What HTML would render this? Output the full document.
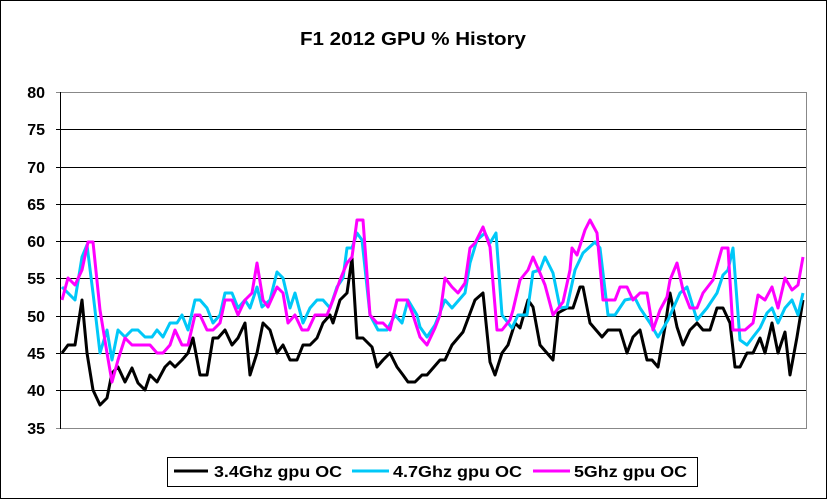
<!DOCTYPE html>
<html><head><meta charset="utf-8"><style>
html,body{margin:0;padding:0;background:#fff;}
svg{display:block;}
text{font-family:"Liberation Sans",Arial,sans-serif;font-weight:bold;fill:#000;}
</style></head><body>
<svg width="827" height="499" viewBox="0 0 827 499" xmlns="http://www.w3.org/2000/svg">
<rect x="0.5" y="0.5" width="826" height="498" fill="#fff" stroke="#000" stroke-width="1"/>
<text x="413" y="45" font-size="18" text-anchor="middle" textLength="226" lengthAdjust="spacingAndGlyphs">F1 2012 GPU % History</text>
<g stroke="#000" stroke-width="1">
<line x1="56" y1="92.5" x2="806" y2="92.5" stroke="#888"/>
<line x1="56" y1="129.5" x2="806" y2="129.5"/>
<line x1="56" y1="167.5" x2="806" y2="167.5"/>
<line x1="56" y1="204.5" x2="806" y2="204.5"/>
<line x1="56" y1="241.5" x2="806" y2="241.5"/>
<line x1="56" y1="278.5" x2="806" y2="278.5"/>
<line x1="56" y1="316.5" x2="806" y2="316.5"/>
<line x1="56" y1="353.5" x2="806" y2="353.5"/>
<line x1="56" y1="390.5" x2="806" y2="390.5"/>
<line x1="56" y1="428.5" x2="806" y2="428.5" stroke="#888"/>
<line x1="60.5" y1="92" x2="60.5" y2="429"/>
<line x1="806.5" y1="92" x2="806.5" y2="429" stroke="#888"/>
</g>
<g font-size="16" text-anchor="end">
<text x="45" y="98">80</text><text x="45" y="135">75</text><text x="45" y="173">70</text>
<text x="45" y="210">65</text><text x="45" y="247">60</text><text x="45" y="284">55</text>
<text x="45" y="322">50</text><text x="45" y="359">45</text><text x="45" y="396">40</text>
<text x="45" y="434">35</text>
</g>
<g fill="none" stroke-width="3" stroke-linejoin="round">
<polyline stroke="#000" points="62,353 68,345 75,345 82,300 87,353 93,390 100,405 107,398 112,373 118,367 125,382 132,368 138,383 145,390 150,375 157,382 165,367 170,362 175,367 182,360 188,353 193,338 200,375 207,375 213,338 218,338 225,330 232,345 238,338 245,323 250,375 257,353 263,323 270,330 277,353 283,345 290,360 297,360 303,345 310,345 317,338 323,323 330,315 333,323 340,300 347,293 352,258 357,338 363,338 372,347 377,367 383,360 390,353 397,367 403,375 408,382 415,382 422,375 427,375 440,360 445,360 452,345 463,332 475,300 483,293 490,362 495,375 502,353 508,345 515,323 520,328 528,300 533,307 540,345 553,360 558,313 567,308 573,308 580,287 583,287 590,323 602,337 608,330 620,330 627,353 633,337 640,330 647,360 652,360 658,367 665,327 670,293 677,327 683,345 690,330 697,323 703,330 710,330 717,308 723,308 730,323 735,367 740,367 747,353 753,353 760,338 765,353 772,323 778,353 785,332 790,375 797,337 803,300"/>
<polyline stroke="#00c8f8" points="62,287 68,293 75,300 82,257 87,245 93,293 100,353 107,330 112,360 118,330 125,337 132,330 138,330 145,337 152,337 157,330 163,337 170,323 177,323 182,315 188,330 195,300 200,300 207,308 213,323 220,315 225,293 232,293 238,308 245,300 250,308 257,287 262,307 270,300 277,272 283,278 290,308 295,293 303,323 310,308 317,300 323,300 330,308 337,287 343,278 347,248 352,248 357,233 362,240 370,315 378,330 387,330 395,315 402,323 408,300 417,315 420,327 427,337 435,325 445,300 452,308 465,293 470,263 477,240 485,233 490,243 496,233 502,315 512,328 518,315 527,315 533,272 540,270 545,257 553,273 560,308 567,307 575,270 583,253 595,242 600,248 608,315 615,315 625,300 635,298 640,308 650,323 658,337 668,320 680,293 687,287 697,320 707,308 717,293 723,275 728,270 733,248 740,340 747,345 753,337 760,328 767,313 772,308 778,323 785,308 792,300 798,315 803,293"/>
<polyline stroke="#ff00ff" points="62,300 68,278 75,285 82,270 88,242 93,242 100,310 107,353 112,382 118,360 125,338 132,345 150,345 157,353 163,353 170,345 175,330 182,345 188,345 195,315 200,315 207,330 213,330 220,323 225,300 232,300 238,315 245,300 252,293 257,263 263,300 268,307 277,287 283,293 288,323 295,315 302,330 308,330 315,315 327,315 333,300 340,280 347,263 352,257 357,220 363,220 370,315 377,323 383,323 390,330 397,300 407,300 413,315 420,337 427,345 435,328 440,315 445,278 452,287 458,293 465,283 470,248 475,243 483,227 490,247 497,330 502,330 510,320 513,310 520,280 528,270 533,257 540,273 545,285 553,315 563,302 570,270 572,248 577,255 585,230 590,220 597,233 603,300 615,300 620,287 627,287 633,300 640,293 647,293 653,330 660,310 667,297 670,280 677,263 683,290 690,308 697,308 703,293 713,280 722,248 728,248 733,330 745,330 753,323 758,295 765,300 772,287 778,308 785,278 792,290 798,285 803,257"/>
</g>
<rect x="167.5" y="457.5" width="530" height="29" fill="#fff" stroke="#000" stroke-width="1"/>
<g stroke-width="3">
<line x1="174" y1="471" x2="208" y2="471" stroke="#000"/>
<line x1="352" y1="471" x2="389" y2="471" stroke="#00c8f8"/>
<line x1="533" y1="471" x2="570" y2="471" stroke="#ff00ff"/>
</g>
<g font-size="16">
<text x="214" y="477" textLength="128" lengthAdjust="spacingAndGlyphs">3.4Ghz gpu OC</text>
<text x="393" y="477" textLength="129" lengthAdjust="spacingAndGlyphs">4.7Ghz gpu OC</text>
<text x="574" y="477" textLength="113" lengthAdjust="spacingAndGlyphs">5Ghz gpu OC</text>
</g>
</svg>
</body></html>
